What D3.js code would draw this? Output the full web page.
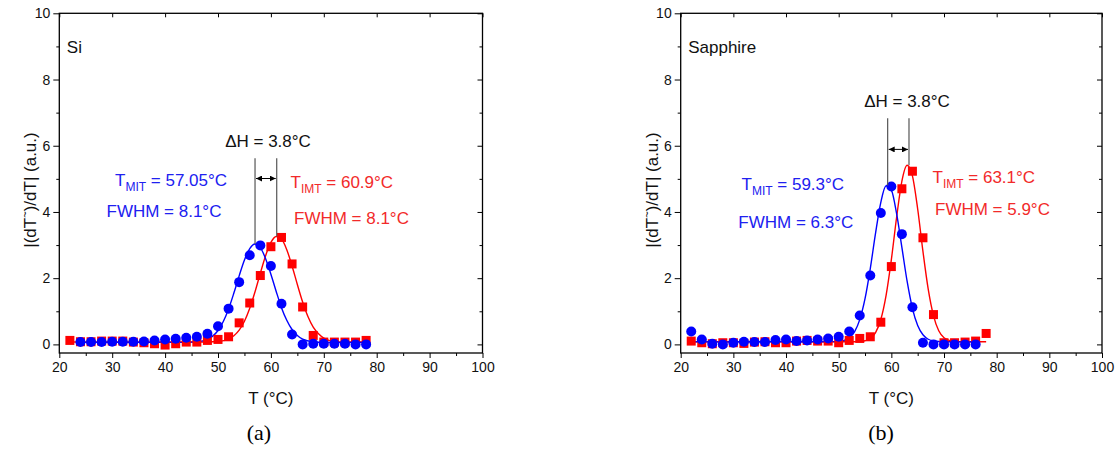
<!DOCTYPE html>
<html lang="en">
<head>
<meta charset="UTF-8" />
<title>|dT/dT| vs T - Si and Sapphire</title>
<script src="https://d3js.org/d3.v7.min.js"></script>
<style>
  body { margin: 0; background: #fff; }
  text { font-family: "Liberation Sans", Arial, sans-serif; }
</style>
</head>
<body>
<script>
// ---- data ----
var xTicks = [20, 30, 40, 50, 60, 70, 80, 90, 100];
var xMinor = [25, 35, 45, 55, 65, 75, 85, 95];
var yTicks = [0, 2, 4, 6, 8, 10];
var yMinor = [1, 3, 5, 7, 9];

// (a) Si
var siMitT = [24, 26, 28, 30, 32, 34, 36, 38, 40, 42, 44, 46, 48, 50, 52, 54, 56, 58, 60, 62, 64, 66, 68, 70, 72, 74, 76, 78];
var siMitV = [0.07, 0.07, 0.07, 0.08, 0.08, 0.08, 0.09, 0.12, 0.15, 0.17, 0.2, 0.23, 0.32, 0.55, 1.08, 1.88, 2.69, 2.99, 2.37, 1.23, 0.3, 0.0, 0.02, 0.02, 0.02, 0.02, 0.0, 0.0];
var siImtT = [22, 24, 26, 28, 30, 32, 34, 36, 38, 40, 42, 44, 46, 48, 50, 52, 54, 56, 58, 60, 62, 64, 66, 68, 70, 72, 74, 76, 78];
var siImtV = [0.12, 0.08, 0.08, 0.1, 0.1, 0.1, 0.07, 0.05, 0.02, -0.02, 0.02, 0.07, 0.07, 0.12, 0.15, 0.23, 0.65, 1.25, 2.08, 2.95, 3.23, 2.43, 1.13, 0.27, 0.07, 0.07, 0.07, 0.07, 0.12];
// fitted curves
var siMitFitT = [24, 40, 44, 46, 48, 49, 50, 51, 52, 53, 54, 55, 56, 57, 58, 59, 60, 61, 62, 63, 64, 65, 66, 68, 70, 78];
var siMitFitV = [0.06, 0.06, 0.062, 0.077, 0.15, 0.25, 0.42, 0.69, 1.07, 1.55, 2.07, 2.55, 2.89, 3.03, 2.92, 2.59, 2.12, 1.6, 1.11, 0.73, 0.45, 0.27, 0.16, 0.08, 0.062, 0.06];
var siImtFitT = [22, 44, 48, 50, 52, 53, 54, 55, 56, 57, 58, 59, 60, 61, 62, 63, 64, 65, 66, 67, 68, 69, 70, 72, 74, 78];
var siImtFitV = [0.07, 0.07, 0.072, 0.086, 0.16, 0.26, 0.43, 0.7, 1.09, 1.59, 2.15, 2.68, 3.08, 3.26, 3.18, 2.86, 2.37, 1.81, 1.28, 0.84, 0.52, 0.32, 0.19, 0.09, 0.073, 0.07];

// (b) Sapphire
var saMitT = [22, 24, 26, 28, 30, 32, 34, 36, 38, 40, 42, 44, 46, 48, 50, 52, 54, 56, 58, 60, 62, 64, 66, 68, 70, 72, 74, 76];
var saMitV = [0.39, 0.15, 0.02, 0.0, 0.05, 0.08, 0.07, 0.07, 0.13, 0.15, 0.1, 0.12, 0.15, 0.18, 0.23, 0.39, 0.87, 2.08, 3.97, 4.77, 3.33, 1.12, 0.05, 0.0, 0.0, 0.0, 0.0, 0.0];
var saImtT = [22, 24, 26, 28, 30, 32, 34, 36, 38, 40, 42, 44, 46, 48, 50, 52, 54, 56, 58, 60, 62, 64, 66, 68, 70, 72, 74, 76, 78];
var saImtV = [0.1, 0.05, 0.02, 0.05, 0.05, 0.03, 0.07, 0.08, 0.05, 0.05, 0.1, 0.12, 0.1, 0.1, 0.05, 0.12, 0.18, 0.23, 0.67, 2.35, 4.7, 5.23, 3.22, 0.9, 0.05, 0.05, 0.07, 0.1, 0.33];
var saMitFitT = [22, 46, 48, 50, 51, 52, 53, 54, 55, 56, 57, 58, 59, 60, 61, 62, 63, 64, 65, 66, 67, 68, 70, 76];
var saMitFitV = [0.08, 0.08, 0.081, 0.091, 0.118, 0.195, 0.376, 0.747, 1.38, 2.29, 3.36, 4.29, 4.79, 4.66, 3.95, 2.93, 1.9, 1.09, 0.57, 0.29, 0.155, 0.104, 0.081, 0.08];
var saImtFitT = [22, 50, 52, 54, 55, 56, 57, 58, 59, 60, 61, 62, 63, 64, 65, 66, 67, 68, 69, 70, 71, 72, 74, 78];
var saImtFitV = [0.08, 0.08, 0.08, 0.087, 0.109, 0.176, 0.356, 0.75, 1.48, 2.56, 3.84, 4.93, 5.41, 5.09, 4.09, 2.81, 1.67, 0.87, 0.41, 0.2, 0.117, 0.09, 0.08, 0.08];

var blue = "#0000ff";
var red = "#ff0000";
var blueText = "#2020f0";
var redText = "#f22a2a";

var w = 1120;
var h = 452;

var svg = d3.select("body")
    .append("svg")
    .attr("width", w)
    .attr("height", h);

var defs = svg.append("defs");
["arrS", "arrE"].forEach(function (id, i) {
    defs.append("marker")
        .attr("id", id)
        .attr("viewBox", "0 0 10 10")
        .attr("refX", i == 0 ? 0 : 10)
        .attr("refY", 5)
        .attr("markerWidth", 6)
        .attr("markerHeight", 6)
        .attr("markerUnits", "userSpaceOnUse")
        .attr("orient", "auto")
        .append("path")
        .attr("d", i == 0 ? "M10,0 L0,5 L10,10 z" : "M0,0 L10,5 L0,10 z")
        .attr("fill", "#000");
});

function zip(a, b) {
    return a.map(function (d, i) { return [d, b[i]]; });
}

function styleLabels(s) {
    s.select(".domain").remove();
    s.selectAll("text")
        .style("font-size", "14px")
        .style("font-family", "'Liberation Sans', Arial, sans-serif")
        .attr("fill", "#111");
}

// draws one panel
function drawPanel(p) {
    var xScale = d3.scaleLinear().domain([20, 100]).range([p.left, p.right]);
    var yScale = d3.scaleLinear().domain([-0.26, 10]).range([353, 13.3]);
    var g = svg.append("g");

    // bottom axis, outward ticks
    g.append("g")
        .attr("transform", "translate(0,353)")
        .call(d3.axisBottom(xScale).tickValues(xMinor).tickSize(3).tickFormat(""))
        .call(function (s) { s.select(".domain").remove(); });
    g.append("g")
        .attr("transform", "translate(0,353)")
        .call(d3.axisBottom(xScale).tickValues(xTicks).tickSize(5).tickPadding(4).tickFormat(d3.format("d")))
        .call(styleLabels);
    // top axis, inward
    g.append("g")
        .attr("transform", "translate(0,13.3)")
        .call(d3.axisTop(xScale).tickValues(xTicks).tickSize(-4).tickFormat(""))
        .call(function (s) { s.select(".domain").remove(); });

    // left axis, outward
    g.append("g")
        .attr("transform", "translate(" + p.left + ",0)")
        .call(d3.axisLeft(yScale).tickValues(yMinor).tickSize(3).tickFormat(""))
        .call(function (s) { s.select(".domain").remove(); });
    g.append("g")
        .attr("transform", "translate(" + p.left + ",0)")
        .call(d3.axisLeft(yScale).tickValues(yTicks).tickSize(6).tickPadding(3).tickFormat(d3.format("d")))
        .call(styleLabels);
    // right axis, inward
    g.append("g")
        .attr("transform", "translate(" + p.right + ",0)")
        .call(d3.axisRight(yScale).tickValues(yTicks).tickSize(-5).tickFormat(""))
        .call(function (s) { s.select(".domain").remove(); });
    g.append("g")
        .attr("transform", "translate(" + p.right + ",0)")
        .call(d3.axisRight(yScale).tickValues(yMinor).tickSize(-3).tickFormat(""))
        .call(function (s) { s.select(".domain").remove(); });

    // frame
    g.append("rect")
        .attr("x", p.left)
        .attr("y", 13.3)
        .attr("width", p.right - p.left)
        .attr("height", 353 - 13.3)
        .attr("fill", "none")
        .attr("stroke", "#000")
        .attr("stroke-width", 1.3);

    var line = d3.line()
        .x(function (d) { return xScale(d[0]); })
        .y(function (d) { return yScale(d[1]); })
        .curve(d3.curveMonotoneX);

    g.append("path").attr("d", line(zip(p.imtFitT, p.imtFitV)))
        .attr("fill", "none").attr("stroke", red).attr("stroke-width", 1.4);
    g.append("path").attr("d", line(zip(p.mitFitT, p.mitFitV)))
        .attr("fill", "none").attr("stroke", blue).attr("stroke-width", 1.4);

    g.selectAll("rect.imt")
        .data(zip(p.imtT, p.imtV))
        .enter()
        .append("rect")
        .attr("class", "imt")
        .attr("x", function (d) { return xScale(d[0]) - 4.5; })
        .attr("y", function (d) { return yScale(d[1]) - 4.5; })
        .attr("width", 9)
        .attr("height", 9)
        .attr("fill", red);

    g.selectAll("circle.mit")
        .data(zip(p.mitT, p.mitV))
        .enter()
        .append("circle")
        .attr("class", "mit")
        .attr("cx", function (d) { return xScale(d[0]); })
        .attr("cy", function (d) { return yScale(d[1]); })
        .attr("r", 5)
        .attr("fill", blue);

    // delta H markers
    g.append("line")
        .attr("x1", xScale(p.tMit)).attr("x2", xScale(p.tMit))
        .attr("y1", yScale(p.lineTop)).attr("y2", yScale(p.mitPeak))
        .attr("stroke", "#555").attr("stroke-width", 1.2);
    g.append("line")
        .attr("x1", xScale(p.tImt)).attr("x2", xScale(p.tImt))
        .attr("y1", yScale(p.lineTop)).attr("y2", yScale(p.imtPeak))
        .attr("stroke", "#555").attr("stroke-width", 1.2);
    g.append("line")
        .attr("x1", xScale(p.tMit) + 1).attr("x2", xScale(p.tImt) - 1)
        .attr("y1", yScale(p.arrowY)).attr("y2", yScale(p.arrowY))
        .attr("stroke", "#000").attr("stroke-width", 1)
        .attr("marker-start", "url(#arrS)")
        .attr("marker-end", "url(#arrE)");

    g.append("text")
        .attr("x", p.dhX).attr("y", p.dhY)
        .attr("text-anchor", "middle")
        .attr("font-size", "17px")
        .attr("fill", "#111")
        .text("\u0394H = 3.8\u00B0C");

    function tempLabel(x, y, sub, val, col) {
        var t = g.append("text").attr("x", x).attr("y", y)
            .attr("font-size", "17px").attr("fill", col);
        t.append("tspan").text("T");
        t.append("tspan").attr("font-size", "12px").attr("dy", 5).text(sub);
        t.append("tspan").attr("dy", -5).text(" = " + val);
    }
    tempLabel(p.mitLabel[0], p.mitLabel[1], "MIT", p.mitText, blueText);
    tempLabel(p.imtLabel[0], p.imtLabel[1], "IMT", p.imtText, redText);

    g.append("text").attr("x", p.mitFwhm[0]).attr("y", p.mitFwhm[1])
        .attr("font-size", "17px").attr("fill", blueText).text(p.mitFwhmText);
    g.append("text").attr("x", p.imtFwhm[0]).attr("y", p.imtFwhm[1])
        .attr("font-size", "17px").attr("fill", redText).text(p.imtFwhmText);

    g.append("text")
        .attr("x", p.left + 7.5).attr("y", 53)
        .attr("font-size", "17px").attr("fill", "#111")
        .text(p.name);

    // axis titles
    g.append("text")
        .attr("x", (p.left + p.right) / 2).attr("y", 404)
        .attr("text-anchor", "middle")
        .attr("font-size", "17px").attr("fill", "#111")
        .text("T (\u00B0C)");

    var yl = g.append("text")
        .attr("transform", "translate(" + (p.left - 23) + ",190) rotate(-90)")
        .attr("text-anchor", "middle")
        .attr("font-size", "17px").attr("fill", "#111");
    yl.append("tspan").text("|(dT");
    yl.append("tspan").attr("font-size", "11px").attr("dy", -7).text("~");
    yl.append("tspan").attr("dy", 7).text(")/dT| (a.u.)");

    g.append("text")
        .attr("x", p.capX).attr("y", 440)
        .attr("text-anchor", "middle")
        .style("font-family", "'Liberation Serif', 'Times New Roman', serif")
        .attr("font-size", "22px").attr("fill", "#000")
        .text(p.caption);
}

drawPanel({
    left: 59.3, right: 482.5, name: "Si", caption: "(a)", capX: 259,
    mitT: siMitT, mitV: siMitV, imtT: siImtT, imtV: siImtV,
    mitFitT: siMitFitT, mitFitV: siMitFitV, imtFitT: siImtFitT, imtFitV: siImtFitV,
    tMit: 57.0, tImt: 61.1, lineTop: 5.62, mitPeak: 3.03, imtPeak: 3.26, arrowY: 5.01,
    dhX: 268, dhY: 147,
    mitLabel: [115, 186], mitText: "57.05\u00B0C",
    imtLabel: [290.5, 188], imtText: "60.9\u00B0C",
    mitFwhm: [106.5, 216.5], mitFwhmText: "FWHM = 8.1\u00B0C",
    imtFwhm: [294, 224], imtFwhmText: "FWHM = 8.1\u00B0C"
});

drawPanel({
    left: 680.7, right: 1102, name: "Sapphire", caption: "(b)", capX: 881,
    mitT: saMitT, mitV: saMitV, imtT: saImtT, imtV: saImtV,
    mitFitT: saMitFitT, mitFitV: saMitFitV, imtFitT: saImtFitT, imtFitV: saImtFitV,
    tMit: 59.3, tImt: 63.35, lineTop: 6.83, mitPeak: 4.8, imtPeak: 5.41, arrowY: 5.89,
    dhX: 907, dhY: 107,
    mitLabel: [741.5, 190], mitText: "59.3\u00B0C",
    imtLabel: [932.5, 183], imtText: "63.1\u00B0C",
    mitFwhm: [738.3, 228], mitFwhmText: "FWHM = 6.3\u00B0C",
    imtFwhm: [935, 215], imtFwhmText: "FWHM = 5.9\u00B0C"
});
</script>
</body>
</html>
